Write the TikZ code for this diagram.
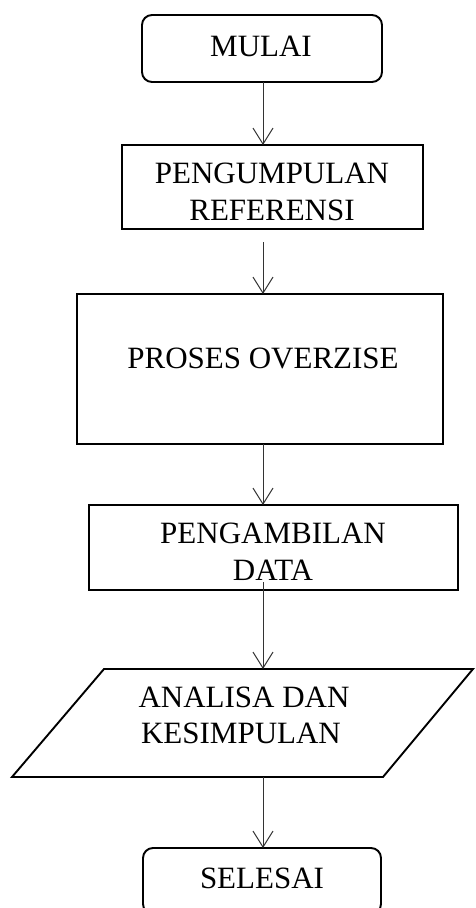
\documentclass[tikz,border=0pt]{standalone}
\usepackage{fontspec}
\setmainfont{Liberation Serif}
\usetikzlibrary{arrows.meta,calc}
\begin{document}
\begin{tikzpicture}[x=1pt,y=-1pt,
  box/.style={draw=black,line width=1.9pt,inner sep=0pt,outer sep=0pt},
  term/.style={box,rounded corners=10pt},
  lbl/.style={anchor=base,inner sep=0pt,font=\fontsize{31}{37}\selectfont},
  arr/.style={draw=black!80,line width=1pt,-{Straight Barb[length=16pt,width=20pt]}}]
\useasboundingbox (0,0) rectangle (475,908);
\fill[white] (0,0) rectangle (475,908);
\coordinate (ax) at (263,0);

% boxes
\node[term,minimum width=240pt,minimum height=67pt] (m) at (262,48.5) {};
\node[box,minimum width=301pt,minimum height=84pt] (p) at (272.5,187) {};
\node[box,minimum width=366pt,minimum height=150pt] (o) at (260,369) {};
\node[box,minimum width=369pt,minimum height=85pt] (g) at (273.5,547.5) {};
\node[inner sep=0pt,outer sep=0pt,minimum width=461pt,minimum height=108pt] (ana) at (242.5,723) {};
\draw[line width=1.9pt,line join=miter]
  ($(ana.north west)+(92,0)$) -- (ana.north east)
  -- ($(ana.south east)+(-90,0)$) -- (ana.south west) -- cycle;
\node[term,minimum width=238pt,minimum height=66pt] (s) at (262,881) {};

% texts
\node[lbl] (tm) at (261,56) {MULAI};
\node[lbl] (tp1) at (272,183) {PENGUMPULAN};
\node[lbl] (tp2) at (272,220) {REFERENSI};
\node[lbl] (to) at (263,368) {PROSES OVERZISE};
\node[lbl] (tg1) at (273,543) {PENGAMBILAN};
\node[lbl] (tg2) at (273,580) {DATA};
\node[lbl] (ta1) at (244,707) {ANALISA DAN};
\node[lbl] (ta2) at (241,743) {KESIMPULAN};
\node[lbl] (ts) at (262,888) {SELESAI};

% connectors
\draw[arr] (m.south -| ax) -- (p.north -| ax);
\draw[arr] ($(p.south -| ax)+(0,13)$) -- (o.north -| ax);
\draw[arr] (o.south -| ax) -- (g.north -| ax);
\draw[arr] ($(g.south -| ax)+(0,-8)$) -- (ana.north -| ax);
\draw[arr] (ana.south -| ax) -- (s.north -| ax);
\end{tikzpicture}
\end{document}
